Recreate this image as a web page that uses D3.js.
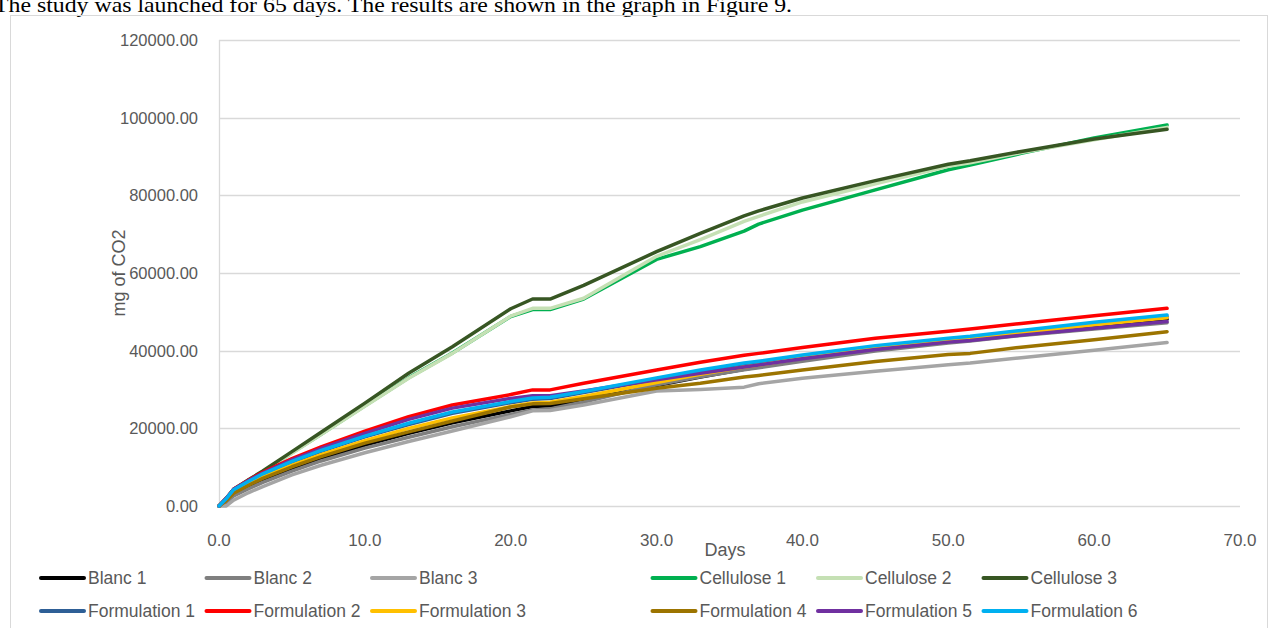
<!DOCTYPE html>
<html>
<head>
<meta charset="utf-8">
<script src="https://cdn.jsdelivr.net/npm/d3@7"></script>
<style>
  body { margin: 0; background: #fff; }
  svg { display: block; }
</style>
</head>
<body>
<div id="chart"></div>
<script>
var days = [0, 0.5, 1, 2, 3, 5, 7, 10, 13, 16, 20, 21.5, 22.7, 25, 30, 33, 36, 37, 40, 45, 50, 51.5, 55, 60, 65];

var blanc1 = [0, 1200, 3000, 4900, 6700, 9700, 12300, 15700, 18700, 21400, 24500, 25600, 25800, 27300, 31000, 33200, 35200, 35800, 37600, 40300, 42400, 42900, 44300, 46200, 48100];
var blanc2 = [0, 900, 2600, 4400, 6100, 9000, 11600, 14900, 17700, 20400, 23600, 24700, 25000, 26800, 31200, 33300, 35100, 35600, 37300, 39900, 42000, 42500, 43900, 45600, 47200];
var blanc3 = [0, 0, 1500, 3400, 5000, 8000, 10500, 13700, 16600, 19300, 23000, 24500, 24600, 26000, 29600, 30000, 30600, 31500, 32900, 34700, 36400, 36800, 38200, 40100, 42100];
var cellulose1 = [0, 1900, 4200, 6600, 8800, 13700, 18500, 25800, 33000, 39400, 48800, 50600, 50600, 53300, 63500, 66800, 70800, 72600, 76200, 81400, 86600, 87800, 90800, 94800, 98100];
var cellulose2 = [0, 1900, 4200, 6600, 8800, 13600, 18400, 25700, 32900, 39300, 48900, 50900, 50900, 53500, 64300, 68600, 73300, 74600, 78300, 83000, 87500, 88400, 91000, 94300, 97500];
var cellulose3 = [0, 2000, 4300, 6700, 9000, 14000, 19000, 26500, 34200, 41000, 50800, 53300, 53300, 56800, 65500, 70200, 74700, 76000, 79300, 83800, 88000, 88900, 91300, 94500, 97000];
var form1 = [0, 1900, 4100, 6200, 8200, 11300, 14100, 17800, 21000, 23900, 26600, 27500, 27700, 29200, 32600, 34600, 36400, 36900, 38500, 40900, 42800, 43300, 44800, 46900, 48800];
var form2 = [0, 2000, 4300, 6600, 8700, 12200, 15200, 19300, 23000, 26000, 28700, 29900, 29900, 31600, 35000, 37000, 38800, 39300, 40800, 43200, 45000, 45600, 47000, 49000, 50900];
var form3 = [0, 1600, 3600, 5600, 7500, 10500, 13200, 16800, 20000, 22700, 25600, 26500, 26700, 28200, 31800, 33900, 35800, 36300, 38100, 40700, 42700, 43200, 44600, 46600, 48500];
var form4 = [0, 1400, 3300, 5300, 7100, 10100, 12700, 16200, 19100, 21900, 25500, 26300, 26400, 27600, 30300, 31600, 33200, 33600, 35000, 37200, 39000, 39300, 40900, 42800, 44900];
var form5 = [0, 2000, 4300, 6500, 8500, 11900, 14800, 18700, 22300, 25200, 27700, 28400, 28400, 29600, 32500, 34200, 35800, 36300, 37900, 40300, 42200, 42600, 44000, 45800, 47500];
var form6 = [0, 1900, 4200, 6300, 8300, 11500, 14300, 18000, 21300, 24200, 26900, 27800, 28000, 29500, 33000, 35000, 36800, 37300, 38900, 41300, 43200, 43700, 45200, 47300, 49200];

var seriesNames = ["Blanc 1", "Blanc 2", "Blanc 3", "Cellulose 1", "Cellulose 2", "Cellulose 3",
    "Formulation 1", "Formulation 2", "Formulation 3", "Formulation 4", "Formulation 5", "Formulation 6"];
var seriesValues = [blanc1, blanc2, blanc3, cellulose1, cellulose2, cellulose3,
    form1, form2, form3, form4, form5, form6];
var seriesColors = ["#000000", "#7f7f7f", "#a5a5a5", "#00b050", "#c5e0b4", "#375623",
    "#2e5f96", "#ff0000", "#ffc000", "#9c7400", "#7030a0", "#00b0f0"];

var xTicks = [0, 10, 20, 30, 40, 50, 60, 70];
var yTicks = [0, 20000, 40000, 60000, 80000, 100000, 120000];

var width = 1272;
var height = 628;
var margin = {left: 219, right: 32, top: 40, bottom: 122};

var svg = d3.select("#chart")
    .append("svg")
    .attr("width", width)
    .attr("height", height)
    .style("font-family", "'Liberation Sans', Arial, sans-serif");

// sentence of the document above the chart
svg.append("text")
    .attr("x", -6)
    .attr("y", 12)
    .attr("font-family", "'Liberation Serif', 'DejaVu Serif', serif")
    .attr("font-size", "22px")
    .attr("fill", "#000")
    .attr("textLength", 798)
    .attr("lengthAdjust", "spacingAndGlyphs")
    .text("The study was launched for 65 days. The results are shown in the graph in Figure 9.");

// chart frame
svg.append("rect")
    .attr("x", 10.5)
    .attr("y", 15.5)
    .attr("width", 1257)
    .attr("height", 640)
    .attr("fill", "none")
    .attr("stroke", "#d9d9d9");

var x = d3.scaleLinear()
    .domain([0, 70])
    .range([margin.left, width - margin.right]);

var y = d3.scaleLinear()
    .domain([0, 120000])
    .range([height - margin.bottom, margin.top]);

// grid
svg.append("g")
    .selectAll("line")
    .data(yTicks)
    .enter()
    .append("line")
    .attr("x1", x(0))
    .attr("x2", x(70))
    .attr("y1", function (d) { return Math.round(y(d)) + 0.5; })
    .attr("y2", function (d) { return Math.round(y(d)) + 0.5; })
    .attr("stroke", "#d9d9d9")
    .attr("stroke-width", 1.3);

// vertical axis line
svg.append("line")
    .attr("x1", Math.round(x(0)) + 0.5)
    .attr("x2", Math.round(x(0)) + 0.5)
    .attr("y1", y(0))
    .attr("y2", y(120000))
    .attr("stroke", "#d9d9d9")
    .attr("stroke-width", 1.3);

// y tick labels
svg.append("g")
    .selectAll("text")
    .data(yTicks)
    .enter()
    .append("text")
    .attr("x", x(0) - 21)
    .attr("y", function (d) { return y(d) + 6; })
    .attr("text-anchor", "end")
    .attr("font-size", "16.5px")
    .attr("fill", "#595959")
    .text(function (d) { return d3.format(".2f")(d); });

// x tick labels
svg.append("g")
    .selectAll("text")
    .data(xTicks)
    .enter()
    .append("text")
    .attr("x", function (d) { return x(d); })
    .attr("y", y(0) + 40)
    .attr("text-anchor", "middle")
    .attr("font-size", "17px")
    .attr("fill", "#595959")
    .text(function (d) { return d3.format(".1f")(d); });

// axis titles
svg.append("text")
    .attr("x", 725)
    .attr("y", 556)
    .attr("text-anchor", "middle")
    .attr("font-size", "18px")
    .attr("fill", "#595959")
    .text("Days");

svg.append("text")
    .attr("transform", "translate(125," + 273 + ") rotate(-90)")
    .attr("text-anchor", "middle")
    .attr("font-size", "18px")
    .attr("fill", "#595959")
    .text("mg of CO2");

// the curves
var line = d3.line()
    .x(function (d, i) { return x(days[i]); })
    .y(function (d) { return y(d); });

svg.append("g")
    .selectAll("path")
    .data(seriesValues)
    .enter()
    .append("path")
    .attr("fill", "none")
    .attr("stroke", function (d, i) { return seriesColors[i]; })
    .attr("stroke-width", 3.5)
    .attr("stroke-linejoin", "round")
    .attr("stroke-linecap", "round")
    .attr("d", line);

// legend: two rows of six
var legend = svg.append("g")
    .selectAll("g")
    .data(seriesNames)
    .enter()
    .append("g")
    .attr("transform", function (d, i) {
        var col = i % 6;
        var row = Math.floor(i / 6);
        var lx = 41 + col * 165.5 + (col >= 3 ? 115 : 0);
        return "translate(" + lx + "," + (578 + row * 33) + ")";
    });

legend.append("line")
    .attr("x1", 0)
    .attr("x2", 43)
    .attr("y1", 0)
    .attr("y2", 0)
    .attr("stroke", function (d, i) { return seriesColors[i]; })
    .attr("stroke-width", 4)
    .attr("stroke-linecap", "round");

legend.append("text")
    .attr("x", 47)
    .attr("y", 6)
    .attr("font-size", "17.5px")
    .attr("fill", "#595959")
    .text(function (d) { return d; });
</script>
</body>
</html>
